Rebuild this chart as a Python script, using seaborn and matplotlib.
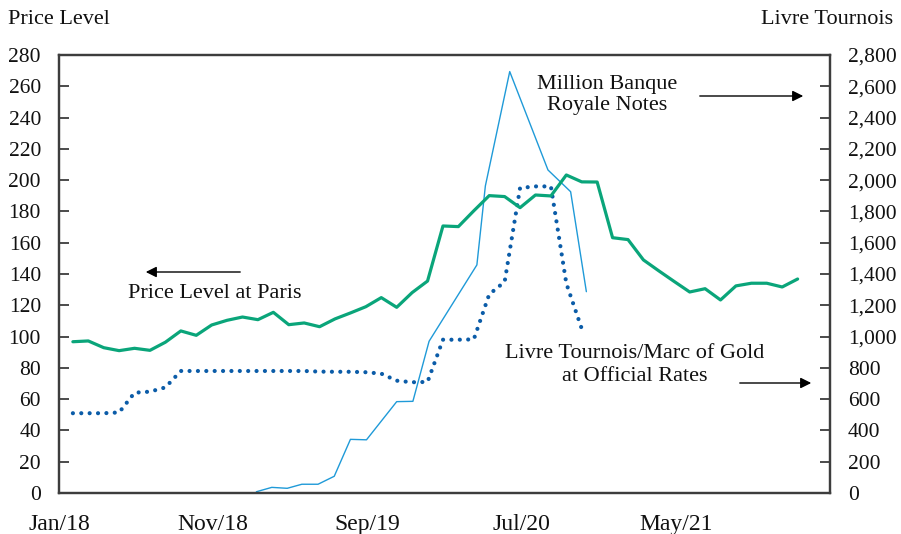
import matplotlib
matplotlib.use("Agg")
import matplotlib.pyplot as plt
import seaborn as sns
import pandas as pd
import numpy as np

# ---- data (months since Jan 1718) ----
month_labels = ["Jan/18", "Nov/18", "Sep/19", "Jul/20", "May/21"]
label_months = [0, 10, 20, 30, 40]

# Price level at Paris (left axis), monthly from Jan 1718 (plotted at month end)
price_level = [96.7, 97.2, 92.9, 91.0, 92.5, 91.2, 96.4, 103.6, 100.8, 107.4,
               110.4, 112.5, 110.8, 115.5, 107.6, 108.7, 106.3, 111.3, 115.1, 119.1,
               124.9, 118.7, 128.1, 135.5, 170.7, 170.3, 180.4, 190.1, 189.5, 182.4,
               190.5, 189.9, 203.3, 198.9, 198.8, 163.2, 162.0, 149.0, 142.0, 135.2,
               128.5, 130.6, 123.4, 132.4, 134.1, 134.1, 131.7, 136.8]

# Livre tournois / marc of gold at official rates (right axis), monthly from Jan 1718
gold_rate = [510, 510, 510, 515, 641, 648, 675, 780, 780, 780,
             780, 780, 780, 780, 780, 780, 776, 775, 775, 772,
             763, 718, 708, 710, 980, 980, 982, 1270, 1350, 1950,
             1960, 1960, 1340, 1050]

# Million Banque Royale notes (right axis), irregular dates
notes_month = [12.8, 13.8, 14.8, 15.75, 16.8, 17.85, 18.9, 19.94, 21.9, 22.95,
               24.0, 27.1, 27.65, 29.23, 31.71, 33.18, 34.2]
notes_value = [8, 36, 30, 56, 56, 107, 343, 340, 584, 586,
               970, 1458, 1963, 2694, 2065, 1926, 1287]

MONTH_END = 0.9  # monthly observations plotted at end of month

df_price = pd.DataFrame({"month": np.arange(len(price_level)) + MONTH_END, "value": price_level})
df_gold = pd.DataFrame({"month": np.arange(len(gold_rate)) + MONTH_END, "value": gold_rate})
df_notes = pd.DataFrame({"month": notes_month, "value": notes_value})

# ---- style ----
sns.set_theme(style="white")
plt.rcParams["font.family"] = ["Liberation Serif", "DejaVu Serif"]
FS = 15.5

GREEN = "#0aa57a"
DOT = "#0b5ca8"
SKY = "#1f9ad8"
SPINE = "#3d3d3d"
TXT = "#111111"

fig = plt.figure(figsize=(9.01, 5.34), dpi=100)
ax = fig.add_axes([59/901, 1-493/534, (830-59)/901, (493-55)/534])
ax2 = ax.twinx()

sns.lineplot(data=df_price, x="month", y="value", ax=ax, color=GREEN, lw=2.3,
             estimator=None, sort=False)
sns.lineplot(data=df_notes, x="month", y="value", ax=ax2, color=SKY, lw=1.0,
             estimator=None, sort=False)
sns.lineplot(data=df_gold, x="month", y="value", ax=ax2, color=DOT, lw=3.0,
             estimator=None, sort=False, linestyle=(0, (0.01, 2.0)))
for ln in ax2.get_lines():
    ln.set_dash_capstyle("round")

ax.set_xlim(0, 50)
ax.set_ylim(0, 280)
ax2.set_ylim(0, 2800)
ax.set_yticks(np.arange(0, 281, 20))
ax2.set_yticks(np.arange(0, 2801, 200))
ax2.set_yticklabels([f"{v:,}" for v in range(0, 2801, 200)])
ax.set_xticks(label_months)
ax.set_xticklabels(month_labels)

for a in (ax, ax2):
    a.set_xlabel("")
    a.set_ylabel("")
    for s in a.spines.values():
        s.set_color(SPINE)
        s.set_linewidth(1.6)
        s.set_visible(True)
    a.grid(False)

ax.tick_params(axis="y", direction="in", length=7, width=1.3, color=SPINE,
               labelsize=FS, pad=13, labelcolor=TXT)
ax.tick_params(axis="x", direction="in", length=7, width=1.3, color=SPINE,
               labelsize=FS + 1.5, pad=15, labelcolor=TXT)
ax2.tick_params(axis="y", direction="in", length=7, width=1.3, color=SPINE,
                labelsize=FS, pad=13, labelcolor=TXT)
ax.set_zorder(ax2.get_zorder() + 1)
ax.patch.set_visible(False)

# axis titles
fig.text(8/901, 1-19/534, "Price Level", fontsize=FS + 0.5, ha="left", va="center", color=TXT)
fig.text(893/901, 1-19/534, "Livre Tournois", fontsize=FS + 0.5, ha="right", va="center", color=TXT)

# annotations
fig.text(607/901, 1-95/534, "Million Banque\nRoyale Notes", fontsize=FS + 0.5, ha="center",
         va="center", linespacing=1.2, color=TXT)
fig.text(215/901, 1-293/534, "Price Level at Paris", fontsize=FS + 0.5, ha="center",
         va="center", color=TXT)
fig.text(635/901, 1-365/534, "Livre Tournois/Marc of Gold\nat Official Rates", fontsize=FS + 0.5,
         ha="center", va="center", linespacing=1.25, color=TXT)

arrow_kw = dict(arrowstyle="-|>", color="black", lw=1.0, mutation_scale=16)
fig.add_artist(matplotlib.patches.FancyArrowPatch((697/901, 1-96/534), (806/901, 1-96/534),
               transform=fig.transFigure, **arrow_kw))
fig.add_artist(matplotlib.patches.FancyArrowPatch((243/901, 1-272/534), (143/901, 1-272/534),
               transform=fig.transFigure, **arrow_kw))
fig.add_artist(matplotlib.patches.FancyArrowPatch((737/901, 1-383/534), (814/901, 1-383/534),
               transform=fig.transFigure, **arrow_kw))

fig.savefig("out.png", dpi=100)
